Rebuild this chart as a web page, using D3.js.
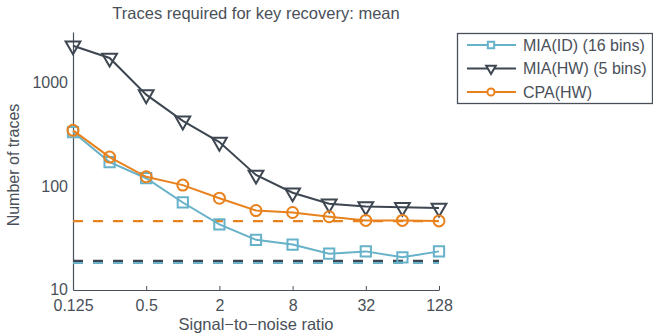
<!DOCTYPE html>
<html>
<head>
<meta charset="utf-8">
<script src="https://cdn.jsdelivr.net/npm/d3@7"></script>
<style>
  body { margin: 0; background: #fff; }
  svg text { font-family: "Liberation Sans", Arial, sans-serif; fill: #4a5059; }
</style>
</head>
<body>
<div id="chart"></div>
<script>
// data
const snr = [0.125, 0.25, 0.5, 1, 2, 4, 8, 16, 32, 64, 128];
const miaId = [335, 172, 120, 70, 43, 30.5, 27.5, 22.4, 23.6, 20.7, 23.6];
const miaHw = [2280, 1740, 770, 430, 268, 129, 87, 68, 64, 63, 62];
const cpaHw = [348, 192, 124, 103, 77, 58.5, 56, 51, 47, 47, 46.5];
const baselines = {miaId: 18.3, miaHw: 19.1, cpaHw: 46.3};
const xTicks = [0.125, 0.5, 2, 8, 32, 128];
const yTicks = [10, 100, 1000];

const colorId = '#67b2c8';
const colorHw = '#3d4651';
const colorCpa = '#e8821e';

const series = [
    {name: 'MIA(ID) (16 bins)', values: miaId, base: baselines.miaId, color: colorId, marker: 'square'},
    {name: 'MIA(HW) (5 bins)', values: miaHw, base: baselines.miaHw, color: colorHw, marker: 'triangle'},
    {name: 'CPA(HW)', values: cpaHw, base: baselines.cpaHw, color: colorCpa, marker: 'circle'}
];

function chart() {
    const W = 653, H = 333;
    const margin = {top: 32, right: 214, bottom: 43, left: 73};
    const width = W - margin.left - margin.right;
    const height = H - margin.top - margin.bottom;

    const svg = d3.select('#chart').append('svg')
        .attr('width', W)
        .attr('height', H);

    const g = svg.append('g')
        .attr('transform', `translate(${margin.left}, ${margin.top})`);

    const x = d3.scaleLog().base(2).domain([0.125, 128]).range([0, width]);
    const y = d3.scaleLog().domain([10, 3100]).range([height, 0]);

    // axes
    const xAxis = g.append('g')
        .attr('transform', `translate(0, ${height})`)
        .call(d3.axisBottom(x).tickValues(xTicks).tickFormat(d => String(d)).tickSizeInner(-4).tickSizeOuter(0).tickPadding(9));
    const yAxis = g.append('g')
        .call(d3.axisLeft(y).tickValues(yTicks).tickFormat(d3.format('d')).tickSizeInner(0).tickSizeOuter(0).tickPadding(5));

    [xAxis, yAxis].forEach(a => {
        a.select('.domain').attr('stroke', '#4a5059').attr('stroke-width', 1.2);
        a.selectAll('.tick line').attr('stroke', '#4a5059');
        a.selectAll('.tick text').style('font-size', '16px').attr('fill', '#4a5059');
    });
    xAxis.selectAll('.tick text').attr('dy', '0.78em');
    yAxis.selectAll('.tick text').attr('dy', '0.3em');

    // baselines (dashed)
    series.forEach(s => {
        g.append('line')
            .attr('x1', x(0.125))
            .attr('x2', x(128))
            .attr('y1', y(s.base))
            .attr('y2', y(s.base))
            .attr('stroke', s.color)
            .attr('stroke-width', 2.2)
            .attr('stroke-dasharray', '10,10');
    });

    const line = d3.line()
        .x(d => x(d[0]))
        .y(d => y(d[1]));

    const symbols = {
        square: d3.symbol().type(d3.symbolSquare).size(105),
        triangle: d3.symbol().type(d3.symbolTriangle).size(95),
        circle: d3.symbol().type(d3.symbolCircle).size(95)
    };

    // draw in order: ID, HW, CPA (CPA on top)
    series.forEach(s => {
        const pts = snr.map((v, i) => [v, s.values[i]]);
        g.append('path')
            .datum(pts)
            .attr('d', line)
            .attr('fill', 'none')
            .attr('stroke', s.color)
            .attr('stroke-width', 2);
        g.selectAll(null)
            .data(pts)
            .enter()
            .append('path')
            .attr('d', symbols[s.marker])
            .attr('transform', d => `translate(${x(d[0])}, ${y(d[1])})` + (s.marker === 'triangle' ? ' rotate(180)' : ''))
            .attr('fill', 'none')
            .attr('stroke', s.color)
            .attr('stroke-width', 2);
    });

    // title and labels
    svg.append('text')
        .attr('x', margin.left + width / 2)
        .attr('y', 19)
        .attr('text-anchor', 'middle')
        .style('font-size', '16.5px')
        .text('Traces required for key recovery: mean');

    svg.append('text')
        .attr('x', margin.left + width / 2)
        .attr('y', 330)
        .attr('text-anchor', 'middle')
        .style('font-size', '16.5px')
        .text('Signal\u2212to\u2212noise ratio');

    svg.append('text')
        .attr('transform', `translate(19, 165) rotate(-90)`)
        .attr('text-anchor', 'middle')
        .style('font-size', '16px')
        .text('Number of traces');

    // legend
    const legend = svg.append('g').attr('transform', 'translate(457, 33)');
    legend.append('rect')
        .attr('x', 0.5)
        .attr('y', 0.5)
        .attr('width', 195)
        .attr('height', 70)
        .attr('fill', '#fff')
        .attr('stroke', '#4a5059')
        .attr('stroke-width', 1.3);

    series.forEach((s, i) => {
        const row = legend.append('g').attr('transform', `translate(0, ${12 + i * 23.5})`);
        row.append('line')
            .attr('x1', 10)
            .attr('x2', 59)
            .attr('stroke', s.color)
            .attr('stroke-width', 2);
        row.append('path')
            .attr('d', d3.symbol().type(s.marker === 'square' ? d3.symbolSquare : s.marker === 'triangle' ? d3.symbolTriangle : d3.symbolCircle).size(40))
            .attr('transform', `translate(34, 0)` + (s.marker === 'triangle' ? ' rotate(180)' : ''))
            .attr('fill', '#fff')
            .attr('stroke', s.color)
            .attr('stroke-width', 2);
        row.append('text')
            .attr('x', 66)
            .attr('y', 0)
            .attr('dy', '0.35em')
            .style('font-size', '16px')
            .text(s.name);
    });
}

chart();
</script>
</body>
</html>
